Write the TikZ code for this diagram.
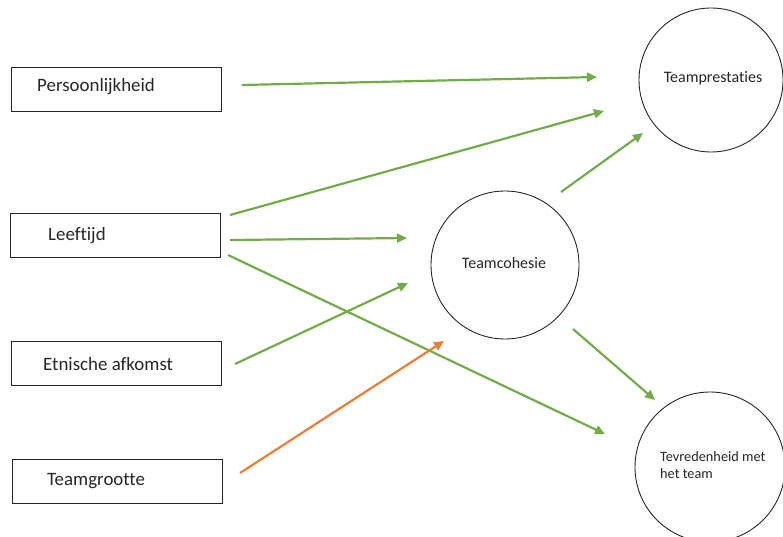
\documentclass[tikz,border=0pt]{standalone}
\usepackage{fontspec}
\setmainfont[Ligatures=CommonOff]{Carlito}
\usetikzlibrary{arrows.meta}
\definecolor{cgreen}{RGB}{112,173,71}
\definecolor{corange}{RGB}{237,125,49}
\tikzset{
  box/.style={draw=black!85, line width=0.9pt, minimum width=210pt, minimum height=44pt, inner sep=0pt},
  lbl/.style={anchor=west, font=\fontsize{18.9}{22}\selectfont, text=black!85, inner sep=0pt},
  circ/.style={draw=black!85, line width=0.9pt, circle, inner sep=0pt},
  ctext/.style={font=\fontsize{16}{17}\selectfont, text=black!85, inner sep=0pt},
  garrow/.style={draw=cgreen, line width=2.2pt, -{Triangle[length=10pt,width=9pt]}},
  oarrow/.style={draw=corange, line width=2.2pt, -{Triangle[length=10pt,width=9pt]}}
}
\begin{document}
\begin{tikzpicture}[x=1pt,y=-1pt]
\useasboundingbox (0,0) rectangle (783,537);
% boxes
\node[box] (pers) at (116.5,89) {};
\node[box] (leef) at (115,235) {};
\node[box] (etn) at (116,363) {};
\node[box] (grootte) at (117.5,481) {};
\node[lbl] (persT) at (37,87) {Persoonlijkheid};
\node[lbl] (leefT) at (48,236) {Leeftijd};
\node[lbl] (etnT) at (43,364) {Etnische afkomst};
\node[lbl] (grootteT) at (47,481) {Teamgrootte};
% circles
\node[circ, minimum size=144pt] (prest) at (711,80) {};
\node[ctext] (prestT) at (713,78) {Teamprestaties};
\node[circ, minimum size=148pt] (coh) at (505,265) {};
\node[ctext] (cohT) at (504,263) {Teamcohesie};
\node[circ, minimum size=150pt] (tevr) at (710,467) {};
\node[ctext, font=\fontsize{14.3}{16.5}\selectfont, align=left, anchor=west] (tevrT) at (660,465) {Tevredenheid met\\het team};
% arrow endpoints
\coordinate (a1s) at (242,85);  \coordinate (a1e) at (597,77);
\coordinate (a2s) at (230,215); \coordinate (a2e) at (604,111);
\coordinate (a3s) at (230,240); \coordinate (a3e) at (407,238);
\coordinate (a4s) at (228,255); \coordinate (a4e) at (605,434);
\coordinate (a5s) at (235,364); \coordinate (a5e) at (408,283);
\coordinate (a6s) at (240,473); \coordinate (a6e) at (444,341);
\coordinate (a7s) at (561,192); \coordinate (a7e) at (643,133);
\coordinate (a8s) at (573,329); \coordinate (a8e) at (655,400);
\draw[garrow] (a1s) -- (a1e);
\draw[garrow] (a2s) -- (a2e);
\draw[garrow] (a3s) -- (a3e);
\draw[garrow] (a4s) -- (a4e);
\draw[garrow] (a5s) -- (a5e);
\draw[oarrow] (a6s) -- (a6e);
\draw[garrow] (a7s) -- (a7e);
\draw[garrow] (a8s) -- (a8e);
\end{tikzpicture}
\end{document}
